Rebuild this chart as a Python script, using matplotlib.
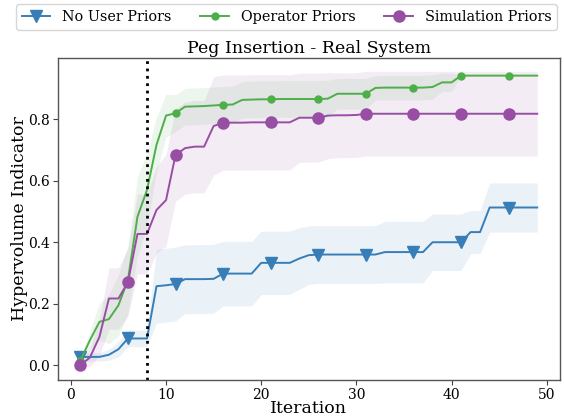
import numpy as np
import matplotlib.pyplot as plt

plt.rcParams["font.family"] = "DejaVu Serif"

iterations = np.arange(1, 50)

no_prior_mean = [0.027, 0.027, 0.027, 0.034, 0.052, 0.087, 0.087, 0.087, 0.257, 0.260,
                 0.264, 0.280, 0.280, 0.280, 0.281, 0.298, 0.298, 0.298, 0.298, 0.333,
                 0.333, 0.333, 0.333, 0.347, 0.358, 0.360, 0.360, 0.360, 0.360, 0.360,
                 0.360, 0.360, 0.368, 0.368, 0.368, 0.368, 0.368, 0.400, 0.400, 0.400,
                 0.400, 0.433, 0.433, 0.513, 0.513, 0.513, 0.513, 0.513, 0.513]
no_prior_std = [0.016, 0.014, 0.013, 0.018, 0.025, 0.027, 0.027, 0.027, 0.120, 0.120,
                0.120, 0.112, 0.112, 0.112, 0.112, 0.105, 0.105, 0.105, 0.105, 0.103,
                0.103, 0.103, 0.103, 0.100, 0.095, 0.094, 0.094, 0.094, 0.094, 0.094,
                0.094, 0.094, 0.100, 0.100, 0.100, 0.100, 0.100, 0.092, 0.092, 0.092,
                0.092, 0.070, 0.070, 0.080, 0.080, 0.080, 0.080, 0.080, 0.080]

operator_mean = [0.015, 0.081, 0.141, 0.150, 0.195, 0.278, 0.483, 0.570, 0.717, 0.812,
                 0.820, 0.841, 0.842, 0.843, 0.845, 0.847, 0.848, 0.863, 0.864, 0.865,
                 0.865, 0.866, 0.866, 0.866, 0.866, 0.866, 0.867, 0.883, 0.883, 0.883,
                 0.883, 0.902, 0.903, 0.903, 0.903, 0.903, 0.903, 0.905, 0.920, 0.920,
                 0.942, 0.942, 0.942, 0.942, 0.942, 0.942, 0.942, 0.942, 0.942]
operator_std = [0.010, 0.030, 0.060, 0.080, 0.100, 0.110, 0.130, 0.120, 0.090, 0.070,
                0.060, 0.060, 0.060, 0.060, 0.060, 0.060, 0.060, 0.060, 0.060, 0.060,
                0.060, 0.060, 0.060, 0.060, 0.060, 0.060, 0.060, 0.050, 0.050, 0.050,
                0.050, 0.040, 0.040, 0.040, 0.040, 0.040, 0.040, 0.040, 0.030, 0.030,
                0.000, 0.000, 0.000, 0.000, 0.000, 0.000, 0.000, 0.000, 0.000]

simulation_mean = [0.000, 0.025, 0.092, 0.217, 0.217, 0.270, 0.427, 0.427, 0.505, 0.537,
                   0.684, 0.706, 0.711, 0.711, 0.778, 0.789, 0.789, 0.789, 0.790, 0.790,
                   0.790, 0.790, 0.790, 0.805, 0.805, 0.805, 0.812, 0.813, 0.813, 0.814,
                   0.818, 0.818, 0.818, 0.818, 0.818, 0.818, 0.818, 0.818, 0.818, 0.818,
                   0.818, 0.818, 0.818, 0.818, 0.818, 0.818, 0.818, 0.818, 0.818]
simulation_std = [0.005, 0.030, 0.060, 0.100, 0.100, 0.110, 0.130, 0.130, 0.140, 0.150,
                  0.150, 0.150, 0.150, 0.150, 0.160, 0.155, 0.155, 0.155, 0.155, 0.155,
                  0.155, 0.155, 0.155, 0.145, 0.145, 0.145, 0.140, 0.138, 0.138, 0.138,
                  0.138, 0.138, 0.138, 0.138, 0.138, 0.138, 0.138, 0.138, 0.138, 0.138,
                  0.138, 0.138, 0.138, 0.138, 0.138, 0.138, 0.138, 0.138, 0.138]

prior_switch = 8

series = [
    ("No User Priors", no_prior_mean, no_prior_std, "#377eb8", "v", 8),
    ("Operator Priors", operator_mean, operator_std, "#4daf4a", "o", 5),
    ("Simulation Priors", simulation_mean, simulation_std, "#984ea3", "o", 8),
]

fig = plt.figure(figsize=(5.64, 4.18), dpi=100)
ax = fig.add_axes([0.102, 0.091, 0.891, 0.770])

for label, mean, std, color, marker, msize in series:
    mean = np.asarray(mean)
    std = np.asarray(std)
    ax.plot(iterations, mean, color=color, marker=marker, markersize=msize,
            markevery=5, linewidth=1.4, label=label)
    ax.fill_between(iterations, mean - std, mean + std, color=color, alpha=0.1, linewidth=0)

ax.axvline(prior_switch, color="black", linestyle=":", linewidth=2)

ax.set_xlim(-1.4, 51.4)
ax.set_ylim(-0.048, 0.999)
ax.set_xticks([0, 10, 20, 30, 40, 50])
ax.set_yticks([0.0, 0.2, 0.4, 0.6, 0.8])
ax.tick_params(labelsize=10, length=3.5, color="#444444", pad=2)
for spine in ax.spines.values():
    spine.set_color("#555555")
    spine.set_linewidth(1.0)

ax.set_title("Peg Insertion - Real System", fontsize=12.5, pad=4)
ax.set_xlabel("Iteration", fontsize=12.5, labelpad=-1)
ax.set_ylabel("Hypervolume Indicator", fontsize=12.5, labelpad=0)

fig.legend(loc="upper center", bbox_to_anchor=(0.508, 0.997), ncol=3, fontsize=10.4,
           frameon=True, handlelength=2.0, columnspacing=2.0, borderaxespad=0.2)

fig.savefig("out.png", dpi=100)
